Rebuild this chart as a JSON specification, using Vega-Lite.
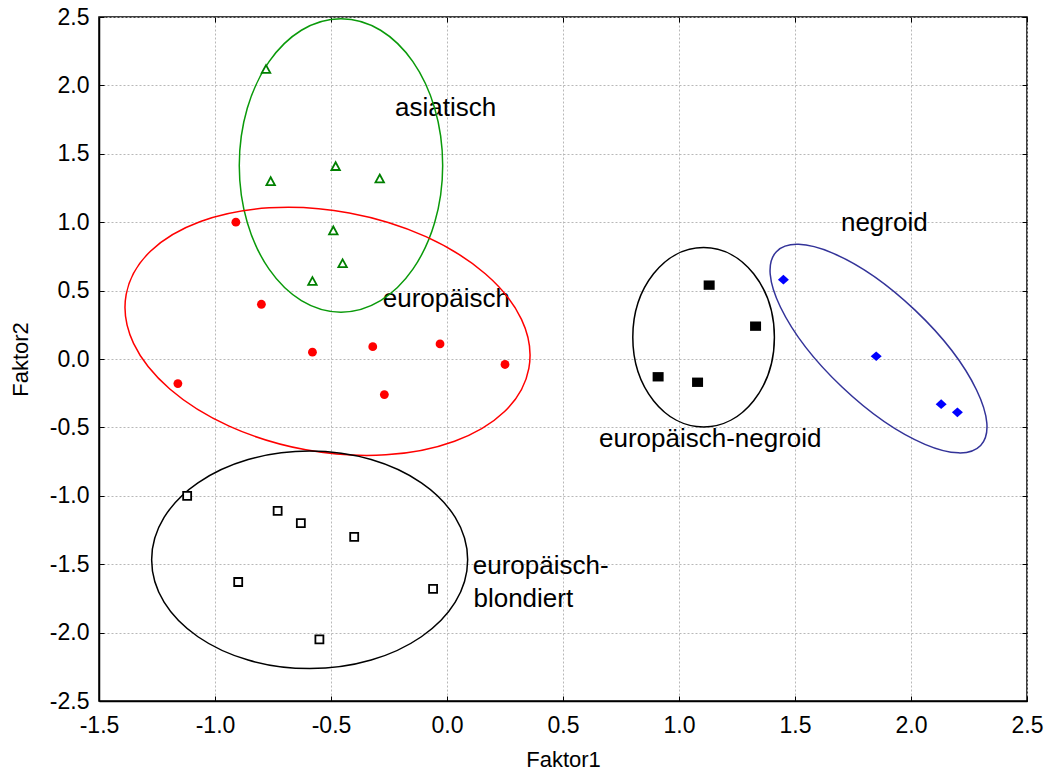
{
  "$schema": "https://vega.github.io/schema/vega-lite/v6.json",
  "width": 928,
  "height": 684,
  "autosize": {"type": "none"},
  "padding": {"left": 99, "top": 17, "right": 18, "bottom": 70},
  "background": "white",
  "config": {
    "view": {"stroke": "black", "strokeWidth": 1.5},
    "text": {"font": "Liberation Sans"}
  },
  "datasets": {
    "punkte": [
      {"gruppe": "asiatisch", "Faktor1": -0.78, "Faktor2": 2.12},
      {"gruppe": "asiatisch", "Faktor1": -0.76, "Faktor2": 1.30},
      {"gruppe": "asiatisch", "Faktor1": -0.48, "Faktor2": 1.41},
      {"gruppe": "asiatisch", "Faktor1": -0.29, "Faktor2": 1.32},
      {"gruppe": "asiatisch", "Faktor1": -0.49, "Faktor2": 0.94},
      {"gruppe": "asiatisch", "Faktor1": -0.45, "Faktor2": 0.70},
      {"gruppe": "asiatisch", "Faktor1": -0.58, "Faktor2": 0.57},
      {"gruppe": "europäisch", "Faktor1": -0.91, "Faktor2": 1.00},
      {"gruppe": "europäisch", "Faktor1": -0.80, "Faktor2": 0.40},
      {"gruppe": "europäisch", "Faktor1": -0.58, "Faktor2": 0.05},
      {"gruppe": "europäisch", "Faktor1": -0.32, "Faktor2": 0.09},
      {"gruppe": "europäisch", "Faktor1": -0.03, "Faktor2": 0.11},
      {"gruppe": "europäisch", "Faktor1": 0.25, "Faktor2": -0.04},
      {"gruppe": "europäisch", "Faktor1": -0.27, "Faktor2": -0.26},
      {"gruppe": "europäisch", "Faktor1": -1.16, "Faktor2": -0.18},
      {"gruppe": "europäisch-blondiert", "Faktor1": -1.12, "Faktor2": -1.00},
      {"gruppe": "europäisch-blondiert", "Faktor1": -0.73, "Faktor2": -1.11},
      {"gruppe": "europäisch-blondiert", "Faktor1": -0.63, "Faktor2": -1.20},
      {"gruppe": "europäisch-blondiert", "Faktor1": -0.40, "Faktor2": -1.30},
      {"gruppe": "europäisch-blondiert", "Faktor1": -0.90, "Faktor2": -1.63},
      {"gruppe": "europäisch-blondiert", "Faktor1": -0.55, "Faktor2": -2.05},
      {"gruppe": "europäisch-blondiert", "Faktor1": -0.06, "Faktor2": -1.68},
      {"gruppe": "europäisch-negroid", "Faktor1": 1.13, "Faktor2": 0.54},
      {"gruppe": "europäisch-negroid", "Faktor1": 1.33, "Faktor2": 0.24},
      {"gruppe": "europäisch-negroid", "Faktor1": 0.91, "Faktor2": -0.13},
      {"gruppe": "europäisch-negroid", "Faktor1": 1.08, "Faktor2": -0.17},
      {"gruppe": "negroid", "Faktor1": 1.45, "Faktor2": 0.58},
      {"gruppe": "negroid", "Faktor1": 1.85, "Faktor2": 0.02},
      {"gruppe": "negroid", "Faktor1": 2.13, "Faktor2": -0.33},
      {"gruppe": "negroid", "Faktor1": 2.20, "Faktor2": -0.39}
    ],
    "ellipsen": [
      {"gruppe": "asiatisch", "Faktor1": -0.457, "Faktor2": 1.415},
      {"gruppe": "europäisch", "Faktor1": -0.515, "Faktor2": 0.202},
      {"gruppe": "europäisch-blondiert", "Faktor1": -0.592, "Faktor2": -1.468},
      {"gruppe": "europäisch-negroid", "Faktor1": 1.106, "Faktor2": 0.159},
      {"gruppe": "negroid", "Faktor1": 1.86, "Faktor2": 0.076}
    ],
    "beschriftungen": [
      {"text": "asiatisch", "Faktor1": -0.224, "Faktor2": 1.774},
      {"text": "europäisch", "Faktor1": -0.277, "Faktor2": 0.38},
      {"text": "negroid", "Faktor1": 1.698, "Faktor2": 0.933},
      {"text": "europäisch-negroid", "Faktor1": 0.655, "Faktor2": -0.643},
      {"text": "europäisch-", "Faktor1": 0.111, "Faktor2": -1.569},
      {"text": "blondiert", "Faktor1": 0.114, "Faktor2": -1.813}
    ]
  },
  "layer": [
    {
      "data": {"name": "beschriftungen"},
      "mark": {"type": "text", "align": "left", "baseline": "alphabetic", "font": "Liberation Sans", "fontSize": 26, "color": "black"},
      "encoding": {
        "x": {"field": "Faktor1", "type": "quantitative", "scale": {"domain": [-1.5, 2.5], "nice": false, "zero": false},
          "axis": {"orient": "top", "values": [-1.5, -1, -0.5, 0, 0.5, 1, 1.5, 2, 2.5], "labels": false, "grid": false, "domain": false, "ticks": true, "tickSize": -5, "tickColor": "black", "tickWidth": 1, "title": null}},
        "y": {"field": "Faktor2", "type": "quantitative", "scale": {"domain": [-2.5, 2.5], "nice": false, "zero": false},
          "axis": {"orient": "right", "values": [-2.5, -2, -1.5, -1, -0.5, 0, 0.5, 1, 1.5, 2, 2.5], "labels": false, "grid": false, "domain": false, "ticks": true, "tickSize": -5, "tickColor": "black", "tickWidth": 1, "title": null}},
        "text": {"field": "text", "type": "nominal"}
      }
    },
    {
      "data": {"name": "ellipsen"},
      "mark": {"type": "point", "size": 4, "filled": false, "strokeWidth": 1.5, "opacity": 1},
      "encoding": {
        "x": {"field": "Faktor1", "type": "quantitative", "scale": {"domain": [-1.5, 2.5], "nice": false, "zero": false}, "axis": null},
        "y": {"field": "Faktor2", "type": "quantitative", "scale": {"domain": [-2.5, 2.5], "nice": false, "zero": false}, "axis": null},
        "shape": {"field": "gruppe", "type": "nominal", "legend": null,
          "scale": {"domain": ["asiatisch", "europäisch", "europäisch-blondiert", "europäisch-negroid", "negroid"],
            "range": [
              "M 101.7 0 C 101.7 81.02 56.17 146.7 0 146.7 C -56.17 146.7 -101.7 81.02 -101.7 0 C -101.7 -81.02 -56.17 -146.7 0 -146.7 C 56.17 -146.7 101.7 -81.02 101.7 0 Z",
              "M 201.34 36.95 C 189.34 102.35 89.47 138.83 -21.73 118.42 C -132.93 98.01 -213.34 28.45 -201.34 -36.95 C -189.34 -102.35 -89.47 -138.83 21.73 -118.42 C 132.93 -98.01 213.34 -28.45 201.34 36.95 Z",
              "M 158 0 C 158 60.09 87.26 108.8 0 108.8 C -87.26 108.8 -158 60.09 -158 0 C -158 -60.09 -87.26 -108.8 0 -108.8 C 87.26 -108.8 158 -60.09 158 0 Z",
              "M 70.8 0 C 70.8 49.54 39.1 89.7 0 89.7 C -39.1 89.7 -70.8 49.54 -70.8 0 C -70.8 -49.54 -39.1 -89.7 0 -89.7 C 39.1 -89.7 70.8 -49.54 70.8 0 Z",
              "M 102.13 96.92 C 81.98 118.15 19.93 91.97 -36.48 38.44 C -92.89 -15.09 -122.28 -75.69 -102.13 -96.92 C -81.98 -118.15 -19.93 -91.97 36.48 -38.44 C 92.89 15.09 122.28 75.69 102.13 96.92 Z"
            ]}},
        "stroke": {"field": "gruppe", "type": "nominal", "legend": null,
          "scale": {"domain": ["asiatisch", "europäisch", "europäisch-blondiert", "europäisch-negroid", "negroid"],
            "range": ["#0a9a0a", "#ff0000", "#000000", "#000000", "#333399"]}}
      }
    },
    {
      "data": {"name": "punkte"},
      "transform": [{"filter": "datum.gruppe === 'asiatisch'"}],
      "mark": {"type": "point", "shape": "M 0 -0.92 L 1 0.92 L -1 0.92 Z", "size": 72, "fill": "white", "stroke": "#008000", "strokeWidth": 1.8, "opacity": 1},
      "encoding": {
        "x": {"field": "Faktor1", "type": "quantitative", "scale": {"domain": [-1.5, 2.5], "nice": false, "zero": false},
          "axis": {"orient": "bottom", "values": [-1.5, -1, -0.5, 0, 0.5, 1, 1.5, 2, 2.5],
            "labelExpr": "replace(format(datum.value, '.1f'), '−', '-')",
            "grid": true, "gridColor": "#b8b8b8", "gridDash": [2, 2], "gridWidth": 1,
            "domain": true, "domainColor": "black", "domainWidth": 1.5,
            "ticks": true, "tickSize": -5, "tickColor": "black", "tickWidth": 1,
            "labelFont": "Liberation Sans", "labelFontSize": 23, "labelColor": "black", "labelPadding": 18,
            "labelFlush": false, "labelOverlap": false,
            "title": "Faktor1", "titleFont": "Liberation Sans", "titleFontSize": 22, "titleFontWeight": "normal", "titleColor": "black", "titlePadding": 12}},
        "y": {"field": "Faktor2", "type": "quantitative", "scale": {"domain": [-2.5, 2.5], "nice": false, "zero": false},
          "axis": {"orient": "left", "values": [-2.5, -2, -1.5, -1, -0.5, 0, 0.5, 1, 1.5, 2, 2.5],
            "labelExpr": "replace(format(datum.value, '.1f'), '−', '-')",
            "grid": true, "gridColor": "#b8b8b8", "gridDash": [2, 2], "gridWidth": 1,
            "domain": true, "domainColor": "black", "domainWidth": 1.5,
            "ticks": true, "tickSize": -5, "tickColor": "black", "tickWidth": 1,
            "labelFont": "Liberation Sans", "labelFontSize": 23, "labelColor": "black", "labelPadding": 15,
            "labelFlush": false, "labelOverlap": false,
            "title": "Faktor2", "titleFont": "Liberation Sans", "titleFontSize": 22, "titleFontWeight": "normal", "titleColor": "black", "titlePadding": 17}}
      }
    },
    {
      "data": {"name": "punkte"},
      "transform": [{"filter": "datum.gruppe === 'europäisch'"}],
      "mark": {"type": "point", "shape": "circle", "size": 78, "filled": true, "fill": "#ff0000", "strokeWidth": 0, "opacity": 1},
      "encoding": {
        "x": {"field": "Faktor1", "type": "quantitative", "scale": {"domain": [-1.5, 2.5], "nice": false, "zero": false}, "axis": null},
        "y": {"field": "Faktor2", "type": "quantitative", "scale": {"domain": [-2.5, 2.5], "nice": false, "zero": false}, "axis": null}
      }
    },
    {
      "data": {"name": "punkte"},
      "transform": [{"filter": "datum.gruppe === 'europäisch-blondiert'"}],
      "mark": {"type": "point", "shape": "square", "size": 64, "fill": "white", "stroke": "black", "strokeWidth": 1.8, "opacity": 1},
      "encoding": {
        "x": {"field": "Faktor1", "type": "quantitative", "scale": {"domain": [-1.5, 2.5], "nice": false, "zero": false}, "axis": null},
        "y": {"field": "Faktor2", "type": "quantitative", "scale": {"domain": [-2.5, 2.5], "nice": false, "zero": false}, "axis": null}
      }
    },
    {
      "data": {"name": "punkte"},
      "transform": [{"filter": "datum.gruppe === 'europäisch-negroid'"}],
      "mark": {"type": "point", "shape": "M -1 -0.85 L 1 -0.85 L 1 0.85 L -1 0.85 Z", "size": 121, "filled": true, "fill": "black", "strokeWidth": 0, "opacity": 1},
      "encoding": {
        "x": {"field": "Faktor1", "type": "quantitative", "scale": {"domain": [-1.5, 2.5], "nice": false, "zero": false}, "axis": null},
        "y": {"field": "Faktor2", "type": "quantitative", "scale": {"domain": [-2.5, 2.5], "nice": false, "zero": false}, "axis": null}
      }
    },
    {
      "data": {"name": "punkte"},
      "transform": [{"filter": "datum.gruppe === 'negroid'"}],
      "mark": {"type": "point", "shape": "M -1 0 L 0 -0.88 L 1 0 L 0 0.88 Z", "size": 121, "filled": true, "fill": "#0000ff", "strokeWidth": 0, "opacity": 1},
      "encoding": {
        "x": {"field": "Faktor1", "type": "quantitative", "scale": {"domain": [-1.5, 2.5], "nice": false, "zero": false}, "axis": null},
        "y": {"field": "Faktor2", "type": "quantitative", "scale": {"domain": [-2.5, 2.5], "nice": false, "zero": false}, "axis": null}
      }
    }
  ],
  "resolve": {"axis": {"x": "independent", "y": "independent"}}
}
